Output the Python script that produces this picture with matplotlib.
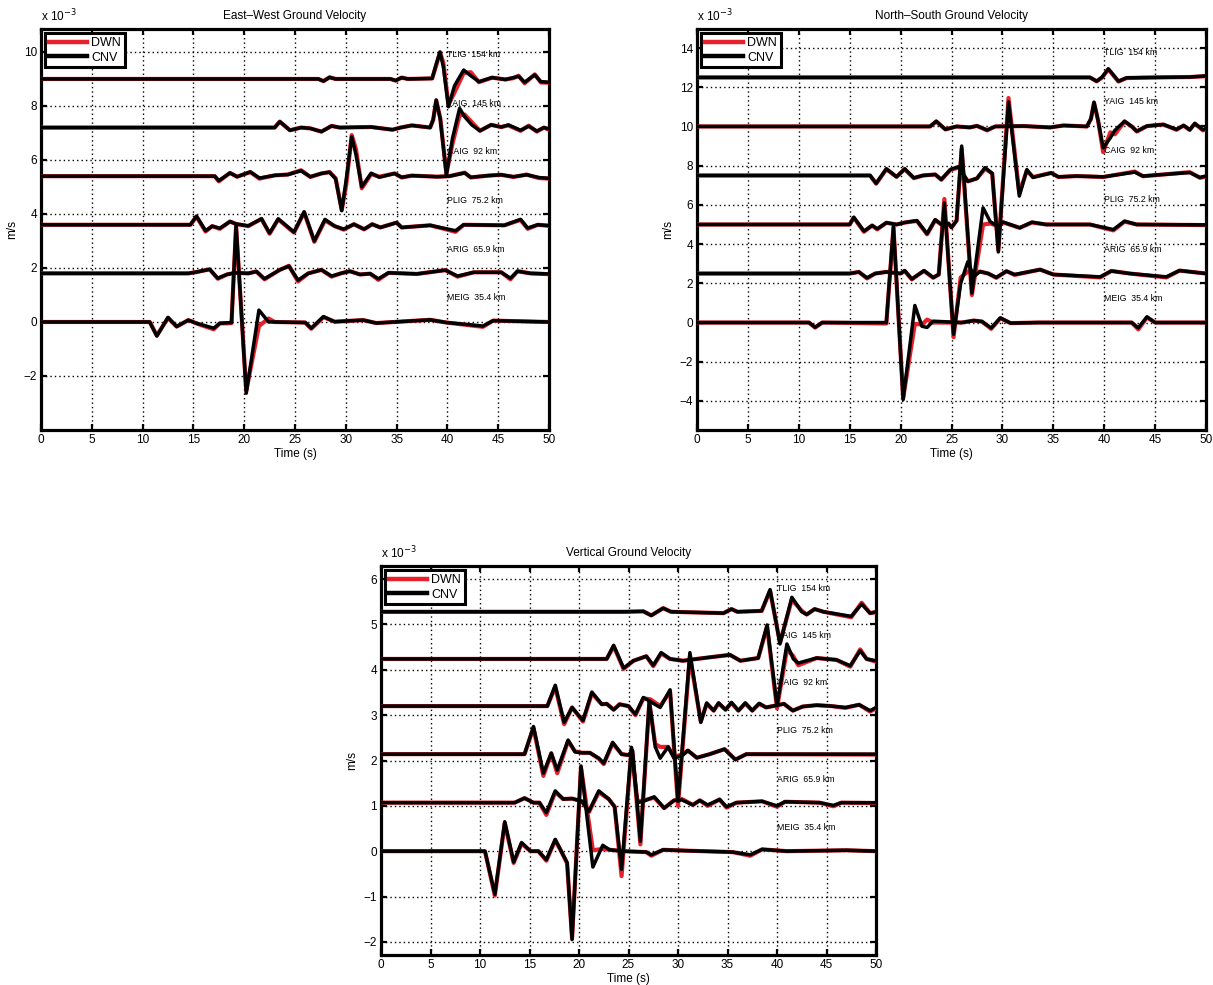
import matplotlib
matplotlib.use("Agg")
import matplotlib.pyplot as plt
from matplotlib.lines import Line2D

plt.rcParams['font.family'] = ['Liberation Sans', 'DejaVu Sans']

# ---------------- data (velocity in 1e-3 m/s, time in s) ----------------
STATIONS = ['TLIG', 'YAIG', 'CAIG', 'PLIG', 'ARIG', 'MEIG']
DISTANCES = ['154 km', '145 km', '92 km', '75.2 km', '65.9 km', '35.4 km']
TICKS_X = [0, 5, 10, 15, 20, 25, 30, 35, 40, 45, 50]

# ---- East-West ----
EW_BASE = [9.0, 7.2, 5.4, 3.6, 1.8, 0.0]
EW_TLIG_T = [0, 27.3, 27.8, 28.4, 29.0, 34.4, 34.9, 35.5, 36.1, 38.5, 38.9, 39.27, 39.6, 40.1, 40.7, 41.6, 42.3, 43.1, 44.4, 45.7, 46.5, 47.0, 47.6, 48.6, 49.2, 50]
EW_TLIG_CNV = [9.0, 9.0, 8.92, 9.06, 9.0, 9.0, 8.94, 9.05, 9.0, 9.02, 9.55, 10.0, 9.45, 7.97, 8.75, 9.33, 9.12, 8.9, 9.05, 8.98, 9.05, 9.1, 8.88, 9.15, 8.9, 8.88]
EW_TLIG_DWN = [9.0, 9.0, 8.92, 9.06, 9.0, 9.0, 8.94, 9.05, 9.0, 9.02, 9.5, 9.98, 9.6, 8.05, 8.5, 9.22, 9.25, 8.88, 9.05, 8.98, 9.03, 9.12, 8.84, 9.17, 8.87, 8.86]

EW_YAIG_T = [0, 23.0, 23.5, 24.5, 25.6, 26.5, 27.6, 28.6, 29.4, 32.5, 34.6, 35.4, 36.5, 38.3, 38.6, 38.9, 39.3, 39.9, 40.5, 41.2, 41.7, 42.4, 43.2, 44.3, 45.3, 46.0, 47.2, 48.0, 48.8, 49.5, 50]
EW_YAIG_CNV = [7.2, 7.2, 7.42, 7.1, 7.2, 7.17, 7.05, 7.26, 7.2, 7.22, 7.12, 7.2, 7.28, 7.2, 7.5, 8.22, 7.5, 5.44, 6.8, 7.91, 7.6, 7.3, 7.08, 7.3, 7.22, 7.3, 7.1, 7.25, 7.07, 7.2, 7.15]
EW_YAIG_DWN = [7.2, 7.2, 7.42, 7.1, 7.2, 7.17, 7.05, 7.26, 7.2, 7.22, 7.12, 7.2, 7.28, 7.2, 7.48, 8.2, 7.55, 5.5, 6.6, 7.65, 7.68, 7.4, 7.08, 7.3, 7.22, 7.28, 7.08, 7.27, 7.05, 7.2, 7.12]

EW_CAIG_T = [0, 17.1, 17.5, 18.6, 19.3, 20.6, 21.5, 23.0, 24.3, 25.6, 26.5, 27.6, 28.4, 29.0, 29.6, 30.05, 30.58, 31.0, 31.57, 32.5, 33.3, 34.8, 35.5, 36.5, 39.0, 40.2, 41.7, 42.3, 44.0, 45.3, 46.5, 47.8, 49.0, 50]
EW_CAIG_CNV = [5.4, 5.4, 5.23, 5.52, 5.38, 5.56, 5.33, 5.43, 5.46, 5.6, 5.38, 5.5, 5.55, 5.3, 4.12, 5.3, 6.86, 6.2, 5.01, 5.51, 5.36, 5.5, 5.36, 5.42, 5.38, 5.4, 5.52, 5.36, 5.42, 5.45, 5.38, 5.45, 5.35, 5.32]
EW_CAIG_DWN = [5.4, 5.4, 5.21, 5.52, 5.38, 5.55, 5.31, 5.43, 5.46, 5.62, 5.37, 5.5, 5.55, 5.32, 4.15, 5.1, 6.92, 6.4, 4.95, 5.48, 5.38, 5.5, 5.35, 5.42, 5.38, 5.4, 5.53, 5.35, 5.42, 5.45, 5.37, 5.46, 5.33, 5.31]

EW_PLIG_T = [0, 14.7, 15.3, 16.2, 16.85, 17.6, 18.6, 19.2, 20.4, 21.7, 22.5, 23.35, 24.9, 25.9, 26.9, 27.95, 28.9, 29.8, 30.8, 31.8, 32.6, 33.4, 35.0, 35.5, 38.3, 40.8, 41.6, 45.6, 47.2, 47.9, 48.9, 50]
EW_PLIG_CNV = [3.6, 3.6, 3.92, 3.38, 3.55, 3.47, 3.72, 3.63, 3.56, 3.82, 3.29, 3.82, 3.33, 4.08, 3.0, 3.8, 3.55, 3.44, 3.62, 3.44, 3.62, 3.5, 3.68, 3.5, 3.58, 3.38, 3.6, 3.58, 3.8, 3.48, 3.6, 3.57]
EW_PLIG_DWN = [3.6, 3.6, 3.9, 3.35, 3.55, 3.45, 3.72, 3.63, 3.55, 3.82, 3.27, 3.8, 3.31, 4.06, 2.97, 3.76, 3.55, 3.42, 3.62, 3.43, 3.62, 3.5, 3.68, 3.5, 3.58, 3.34, 3.6, 3.58, 3.78, 3.45, 3.6, 3.56]

EW_ARIG_T = [0, 14.5, 15.3, 16.6, 17.4, 18.3, 19.1, 20.4, 21.2, 22.0, 23.5, 24.4, 25.3, 26.3, 27.6, 28.6, 29.6, 30.4, 31.4, 32.4, 33.2, 34.2, 37.0, 39.8, 41.0, 42.6, 45.3, 46.2, 46.9, 48.2, 50]
EW_ARIG_CNV = [1.8, 1.8, 1.85, 1.95, 1.62, 1.76, 1.82, 1.8, 1.87, 1.6, 1.93, 2.07, 1.55, 1.8, 1.93, 1.7, 1.81, 1.88, 1.76, 1.79, 1.6, 1.82, 1.78, 1.92, 1.7, 1.84, 1.84, 1.62, 1.88, 1.8, 1.78]
EW_ARIG_DWN = [1.8, 1.8, 1.85, 1.95, 1.6, 1.76, 1.82, 1.8, 1.87, 1.58, 1.93, 2.08, 1.5, 1.8, 1.93, 1.68, 1.81, 1.88, 1.76, 1.79, 1.56, 1.82, 1.78, 1.92, 1.68, 1.84, 1.84, 1.58, 1.88, 1.8, 1.77]

EW_MEIG_T = [0, 10.7, 11.4, 12.5, 13.35, 14.5, 15.3, 15.8, 17.0, 17.6, 18.3, 18.75, 19.2, 20.2, 21.45, 22.4, 23.0, 26.0, 26.6, 27.8, 28.9, 31.7, 33.0, 38.3, 39.9, 43.5, 44.5, 50]
EW_MEIG_CNV = [0, 0, -0.52, 0.17, -0.17, 0.07, -0.05, -0.1, -0.23, -0.05, -0.03, -0.02, 3.6, -2.64, 0.44, 0.0, 0.0, -0.02, -0.23, 0.2, 0.01, 0.07, -0.04, 0.08, -0.02, -0.15, 0.05, 0.0]
EW_MEIG_DWN = [0, 0, -0.5, 0.15, -0.17, 0.07, -0.05, -0.12, -0.27, -0.05, -0.05, -0.04, 3.55, -2.55, -0.15, 0.13, 0.0, -0.02, -0.25, 0.18, 0.01, 0.07, -0.04, 0.08, -0.02, -0.18, 0.05, 0.0]

# ---- North-South ----
NS_BASE = [12.5, 10.0, 7.5, 5.0, 2.5, 0.0]
NS_TLIG_T = [0, 38.6, 39.26, 39.8, 40.4, 41.4, 42.2, 45.0, 48.4, 50]
NS_TLIG_CNV = [12.5, 12.5, 12.31, 12.52, 12.94, 12.31, 12.48, 12.5, 12.52, 12.58]
NS_TLIG_DWN = [12.5, 12.5, 12.3, 12.5, 12.92, 12.29, 12.47, 12.5, 12.52, 12.56]

NS_YAIG_T = [0, 22.9, 23.5, 24.4, 25.5, 26.8, 27.5, 28.5, 29.3, 32.1, 34.7, 36.0, 38.3, 38.7, 39.0, 39.4, 39.9, 40.6, 41.05, 42.0, 42.7, 43.2, 44.2, 45.8, 47.1, 47.8, 48.4, 48.9, 49.7, 50]
NS_YAIG_CNV = [10, 10, 10.27, 9.85, 10.0, 9.95, 10.03, 9.82, 10.0, 10.02, 9.95, 10.05, 10.0, 10.4, 11.24, 10.3, 8.91, 9.42, 9.8, 10.27, 10.0, 9.76, 10.02, 10.1, 9.85, 10.05, 9.83, 10.15, 9.83, 9.9]
NS_YAIG_DWN = [10, 10, 10.25, 9.85, 10.0, 9.95, 10.03, 9.8, 10.0, 10.02, 9.95, 10.05, 10.0, 10.38, 11.2, 10.3, 8.69, 9.7, 9.6, 10.25, 10.0, 9.74, 10.02, 10.1, 9.83, 10.05, 9.82, 10.15, 9.8, 9.88]

NS_CAIG_T = [0, 17.0, 17.6, 18.6, 19.6, 20.4, 21.3, 22.2, 23.4, 24.0, 24.9, 25.7, 26.6, 27.5, 28.3, 29.0, 29.6, 30.6, 31.66, 32.4, 33.0, 34.8, 35.5, 37.3, 39.9, 43.0, 43.8, 45.8, 48.4, 49.4, 50]
NS_CAIG_CNV = [7.5, 7.5, 7.1, 7.84, 7.43, 7.84, 7.38, 7.5, 7.55, 7.3, 7.8, 7.95, 7.2, 7.35, 7.9, 7.6, 3.6, 11.25, 6.45, 7.8, 7.4, 7.63, 7.43, 7.47, 7.43, 7.67, 7.47, 7.55, 7.65, 7.4, 7.47]
NS_CAIG_DWN = [7.5, 7.5, 7.08, 7.82, 7.43, 7.82, 7.36, 7.5, 7.55, 7.28, 7.8, 7.9, 7.2, 7.35, 7.85, 7.6, 3.7, 11.45, 6.6, 7.75, 7.42, 7.63, 7.42, 7.47, 7.42, 7.7, 7.46, 7.55, 7.67, 7.38, 7.45]

NS_PLIG_T = [0, 15.0, 15.4, 16.4, 17.2, 17.7, 18.6, 19.6, 20.4, 21.6, 22.6, 23.4, 24.0, 24.7, 25.0, 25.5, 26.0, 27.0, 28.1, 28.8, 29.4, 30.1, 31.7, 32.9, 34.3, 38.6, 40.9, 42.0, 43.2, 50]
NS_PLIG_CNV = [5, 5, 5.37, 4.66, 4.95, 4.78, 5.09, 5.0, 5.1, 5.2, 4.53, 5.25, 5.0, 5.05, 4.85, 5.2, 9.0, 1.5, 5.85, 5.15, 4.95, 5.12, 4.83, 5.12, 5.0, 5.0, 4.74, 5.17, 5.0, 4.98]
NS_PLIG_DWN = [5, 5, 5.35, 4.63, 4.95, 4.75, 5.09, 5.0, 5.1, 5.18, 4.5, 5.22, 5.0, 5.05, 4.85, 5.2, 8.85, 1.4, 5.0, 5.05, 4.95, 5.1, 4.83, 5.1, 5.0, 5.0, 4.7, 5.15, 5.0, 4.97]

NS_ARIG_T = [0, 15.0, 15.9, 16.7, 17.5, 18.6, 20.0, 20.4, 21.1, 21.9, 22.3, 23.2, 23.75, 24.3, 25.2, 25.9, 26.6, 27.2, 27.8, 28.6, 29.4, 30.4, 31.2, 33.7, 35.0, 39.6, 40.7, 42.5, 46.1, 47.4, 50]
NS_ARIG_CNV = [2.5, 2.5, 2.58, 2.28, 2.5, 2.58, 2.5, 2.65, 2.22, 2.5, 2.65, 2.3, 2.45, 6.1, -0.6, 2.0, 3.1, 2.35, 2.6, 2.5, 2.3, 2.62, 2.45, 2.7, 2.45, 2.33, 2.63, 2.5, 2.33, 2.65, 2.5]
NS_ARIG_DWN = [2.5, 2.5, 2.58, 2.25, 2.5, 2.58, 2.5, 2.63, 2.2, 2.5, 2.63, 2.28, 2.45, 6.3, -0.75, 2.3, 2.6, 2.55, 2.6, 2.5, 2.28, 2.62, 2.43, 2.7, 2.45, 2.3, 2.63, 2.5, 2.3, 2.65, 2.5]

NS_MEIG_T = [0, 11.0, 11.6, 12.3, 18.6, 19.3, 20.25, 21.4, 22.1, 22.6, 23.2, 26.0, 27.2, 28.0, 28.9, 29.8, 30.8, 33.5, 42.7, 43.35, 44.2, 45.0, 50]
NS_MEIG_CNV = [0, 0, -0.24, 0.0, 0.0, 4.9, -3.93, 0.87, -0.19, -0.25, 0.07, 0.0, 0.1, 0.05, -0.28, 0.24, -0.03, 0.0, 0.0, -0.27, 0.29, 0.0, 0.0]
NS_MEIG_DWN = [0, 0, -0.26, 0.0, -0.05, 4.85, -3.85, -0.07, -0.1, 0.15, 0.0, 0.0, 0.1, 0.05, -0.32, 0.22, -0.03, 0.0, 0.0, -0.35, 0.26, 0.0, 0.0]

# ---- Vertical ----
V_BASE = [5.28, 4.24, 3.2, 2.14, 1.07, 0.0]
V_TLIG_T = [0, 24.5, 26.5, 27.3, 28.5, 29.3, 34.6, 35.4, 36.0, 38.45, 39.3, 40.3, 41.5, 42.5, 43.0, 43.8, 44.7, 47.5, 48.55, 49.4, 50]
V_TLIG_CNV = [5.28, 5.28, 5.29, 5.2, 5.36, 5.28, 5.25, 5.34, 5.28, 5.3, 5.77, 4.57, 5.6, 5.28, 5.22, 5.34, 5.28, 5.18, 5.45, 5.25, 5.28]
V_TLIG_DWN = [5.28, 5.28, 5.29, 5.2, 5.36, 5.28, 5.25, 5.34, 5.28, 5.3, 5.74, 4.6, 5.55, 5.3, 5.22, 5.34, 5.28, 5.16, 5.48, 5.25, 5.27]

V_YAIG_T = [0, 22.8, 23.5, 24.5, 25.5, 26.8, 27.5, 28.3, 29.2, 30.5, 32.6, 35.25, 36.3, 38.1, 39.0, 40.0, 41.0, 41.65, 42.15, 44.0, 46.0, 47.4, 48.4, 49.05, 50]
V_YAIG_CNV = [4.24, 4.24, 4.54, 4.04, 4.2, 4.3, 4.1, 4.38, 4.24, 4.2, 4.26, 4.33, 4.2, 4.26, 4.99, 3.21, 4.57, 4.24, 4.15, 4.26, 4.22, 4.09, 4.42, 4.24, 4.2]
V_YAIG_DWN = [4.24, 4.24, 4.52, 4.02, 4.2, 4.3, 4.08, 4.36, 4.24, 4.2, 4.26, 4.33, 4.2, 4.26, 4.95, 3.15, 4.45, 4.3, 4.1, 4.26, 4.22, 4.07, 4.45, 4.24, 4.18]

V_CAIG_T = [0, 16.8, 17.6, 18.5, 19.3, 20.4, 21.3, 22.3, 22.8, 23.5, 24.1, 25.0, 25.7, 26.5, 27.2, 28.2, 29.2, 30.0, 31.2, 32.3, 32.9, 33.6, 34.1, 34.8, 35.4, 36.1, 36.8, 37.5, 38.2, 38.9, 40.7, 41.6, 42.6, 44.0, 45.5, 46.9, 48.3, 49.4, 50]
V_CAIG_CNV = [3.2, 3.2, 3.66, 2.84, 3.17, 2.88, 3.51, 3.24, 3.25, 3.12, 3.24, 3.2, 3.02, 3.39, 3.3, 3.17, 3.56, 1.1, 4.38, 2.84, 3.27, 3.1, 3.27, 3.12, 3.28, 3.1, 3.27, 3.1, 3.26, 3.17, 3.25, 3.1, 3.19, 3.22, 3.2, 3.17, 3.23, 3.1, 3.17]
V_CAIG_DWN = [3.2, 3.2, 3.62, 2.8, 3.17, 2.86, 3.48, 3.24, 3.25, 3.12, 3.24, 3.2, 3.0, 3.37, 3.35, 3.2, 3.52, 1.0, 4.3, 2.86, 3.25, 3.1, 3.26, 3.12, 3.27, 3.1, 3.26, 3.1, 3.25, 3.17, 3.25, 3.1, 3.19, 3.22, 3.2, 3.16, 3.23, 3.08, 3.15]

V_PLIG_T = [0, 14.5, 15.4, 16.4, 17.2, 17.8, 18.9, 19.6, 20.3, 21.1, 22.0, 22.5, 23.4, 24.3, 25.0, 25.4, 26.2, 27.1, 27.7, 28.2, 29.0, 29.6, 30.5, 31.0, 31.9, 33.2, 34.7, 35.8, 36.9, 50]
V_PLIG_CNV = [2.14, 2.14, 2.75, 1.72, 2.16, 1.79, 2.45, 2.19, 2.17, 2.17, 2.05, 1.94, 2.4, 2.14, 2.12, 2.22, 0.22, 3.32, 2.3, 2.05, 2.3, 2.05, 2.12, 2.22, 2.06, 2.14, 2.25, 2.02, 2.14, 2.14]
V_PLIG_DWN = [2.14, 2.14, 2.72, 1.66, 2.16, 1.72, 2.43, 2.2, 2.17, 2.17, 2.04, 1.92, 2.38, 2.14, 2.12, 2.2, 0.15, 3.28, 2.36, 2.3, 2.3, 2.08, 2.14, 2.22, 2.06, 2.14, 2.25, 2.02, 2.14, 2.13]

V_ARIG_T = [0, 13.5, 14.5, 15.4, 16.0, 16.7, 17.6, 18.4, 19.3, 20.3, 21.0, 22.0, 23.0, 23.6, 24.3, 25.3, 25.9, 26.5, 27.6, 28.6, 29.6, 30.4, 31.5, 32.2, 33.0, 34.2, 34.9, 35.9, 38.5, 40.0, 40.8, 44.3, 45.7, 46.5, 50]
V_ARIG_CNV = [1.07, 1.07, 1.17, 1.07, 1.07, 0.85, 1.33, 1.15, 1.16, 1.1, 0.88, 1.33, 1.15, 0.98, -0.4, 2.29, 1.07, 1.1, 1.2, 0.95, 1.12, 1.13, 1.02, 1.12, 1.02, 1.14, 0.98, 1.07, 1.1, 1.0, 1.09, 1.07, 1.01, 1.07, 1.07]
V_ARIG_DWN = [1.07, 1.07, 1.17, 1.07, 1.07, 0.8, 1.3, 1.15, 1.16, 1.1, 0.86, 1.3, 1.15, 0.98, -0.55, 2.25, 1.1, 1.12, 1.18, 0.95, 1.12, 1.15, 1.02, 1.12, 1.0, 1.14, 0.96, 1.07, 1.1, 0.98, 1.09, 1.07, 0.99, 1.07, 1.06]

V_MEIG_T = [0, 10.5, 11.5, 12.5, 13.4, 14.2, 15.1, 15.9, 16.7, 17.6, 18.2, 18.8, 19.3, 20.2, 21.4, 22.4, 23.1, 24.5, 26.8, 27.3, 28.5, 31.0, 35.5, 37.3, 38.5, 41.0, 47.0, 50]
V_MEIG_CNV = [0, 0, -0.95, 0.65, -0.24, 0.19, 0.0, 0.0, -0.19, 0.26, 0.0, -0.25, -1.95, 1.88, -0.35, 0.13, 0.03, 0.0, -0.02, -0.08, 0.03, 0.01, -0.02, -0.08, 0.04, 0.0, 0.02, 0.0]
V_MEIG_DWN = [0, 0, -0.98, 0.62, -0.26, 0.17, 0.0, 0.0, -0.21, 0.24, 0.0, -0.27, -1.92, 1.85, 0.02, 0.05, 0.03, 0.0, -0.02, -0.1, 0.03, 0.01, -0.02, -0.1, 0.04, 0.0, 0.02, 0.0]

EW_TRACES = [(EW_TLIG_T, EW_TLIG_CNV, EW_TLIG_DWN), (EW_YAIG_T, EW_YAIG_CNV, EW_YAIG_DWN),
             (EW_CAIG_T, EW_CAIG_CNV, EW_CAIG_DWN), (EW_PLIG_T, EW_PLIG_CNV, EW_PLIG_DWN),
             (EW_ARIG_T, EW_ARIG_CNV, EW_ARIG_DWN), (EW_MEIG_T, EW_MEIG_CNV, EW_MEIG_DWN)]
NS_TRACES = [(NS_TLIG_T, NS_TLIG_CNV, NS_TLIG_DWN), (NS_YAIG_T, NS_YAIG_CNV, NS_YAIG_DWN),
             (NS_CAIG_T, NS_CAIG_CNV, NS_CAIG_DWN), (NS_PLIG_T, NS_PLIG_CNV, NS_PLIG_DWN),
             (NS_ARIG_T, NS_ARIG_CNV, NS_ARIG_DWN), (NS_MEIG_T, NS_MEIG_CNV, NS_MEIG_DWN)]
V_TRACES = [(V_TLIG_T, V_TLIG_CNV, V_TLIG_DWN), (V_YAIG_T, V_YAIG_CNV, V_YAIG_DWN),
            (V_CAIG_T, V_CAIG_CNV, V_CAIG_DWN), (V_PLIG_T, V_PLIG_CNV, V_PLIG_DWN),
            (V_ARIG_T, V_ARIG_CNV, V_ARIG_DWN), (V_MEIG_T, V_MEIG_CNV, V_MEIG_DWN)]

PANELS = [
    dict(title='East\u2013West Ground Velocity', rect=[41 / 1213, 1 - 430 / 985, 508 / 1213, 401 / 985],
         ylim=(-4.0, 10.85), yticks=[-2, 0, 2, 4, 6, 8, 10], base=EW_BASE, traces=EW_TRACES),
    dict(title='North\u2013South Ground Velocity', rect=[697 / 1213, 1 - 430 / 985, 509 / 1213, 401 / 985],
         ylim=(-5.48, 14.97), yticks=[-4, -2, 0, 2, 4, 6, 8, 10, 12, 14], base=NS_BASE, traces=NS_TRACES),
    dict(title='Vertical Ground Velocity', rect=[381 / 1213, 1 - 955 / 985, 495 / 1213, 389 / 985],
         ylim=(-2.29, 6.29), yticks=[-2, -1, 0, 1, 2, 3, 4, 5, 6], base=V_BASE, traces=V_TRACES),
]

RED = '#e8202a'
LW_RED = 3.0
LW_BLK = 2.5

fig = plt.figure(figsize=(12.13, 9.85), dpi=100)

for p in PANELS:
    ax = fig.add_axes(p['rect'])
    spacing = p['base'][0] - p['base'][1]
    for (t, cnv, dwn), name, dist, b in zip(p['traces'], STATIONS, DISTANCES, p['base']):
        ax.plot(t, dwn, color=RED, lw=LW_RED, solid_joinstyle='round', solid_capstyle='round', zorder=3)
        ax.plot(t, cnv, color='k', lw=LW_BLK, solid_joinstyle='round', solid_capstyle='round', zorder=4)
        ax.text(40, b + spacing / 2, f'{name}  {dist}', fontsize=6.3, ha='left', va='center', zorder=5)
    ax.set_xlim(0, 50)
    ax.set_ylim(*p['ylim'])
    ax.set_xticks(TICKS_X)
    ax.set_yticks(p['yticks'])
    ax.set_axisbelow(True)
    ax.grid(True, color='k', linestyle=(0, (1, 2.2)), linewidth=1.0)
    ax.tick_params(direction='in', top=True, right=True, length=4, width=1.6, labelsize=8.5, pad=3)
    for s in ax.spines.values():
        s.set_linewidth(2.3)
    ax.set_title(p['title'], fontsize=8.5, pad=7)
    ax.text(0, 1.012, r'x 10$^{-3}$', transform=ax.transAxes, ha='left', va='bottom', fontsize=8.5)
    ax.set_ylabel('m/s', fontsize=8.5, labelpad=4)
    ax.set_xlabel('Time (s)', fontsize=8.5, labelpad=1)
    handles = [Line2D([], [], color=RED, lw=3.2), Line2D([], [], color='k', lw=3.2)]
    leg = ax.legend(handles, ['DWN', 'CNV'], loc='upper left', fontsize=9, frameon=True, fancybox=False,
                    edgecolor='k', framealpha=1, handlelength=3.0, handletextpad=0.35, borderpad=0.3,
                    labelspacing=0.2, borderaxespad=0.35)
    leg.get_frame().set_linewidth(2.2)
    leg.set_zorder(10)

fig.savefig('out.png', dpi=100)
